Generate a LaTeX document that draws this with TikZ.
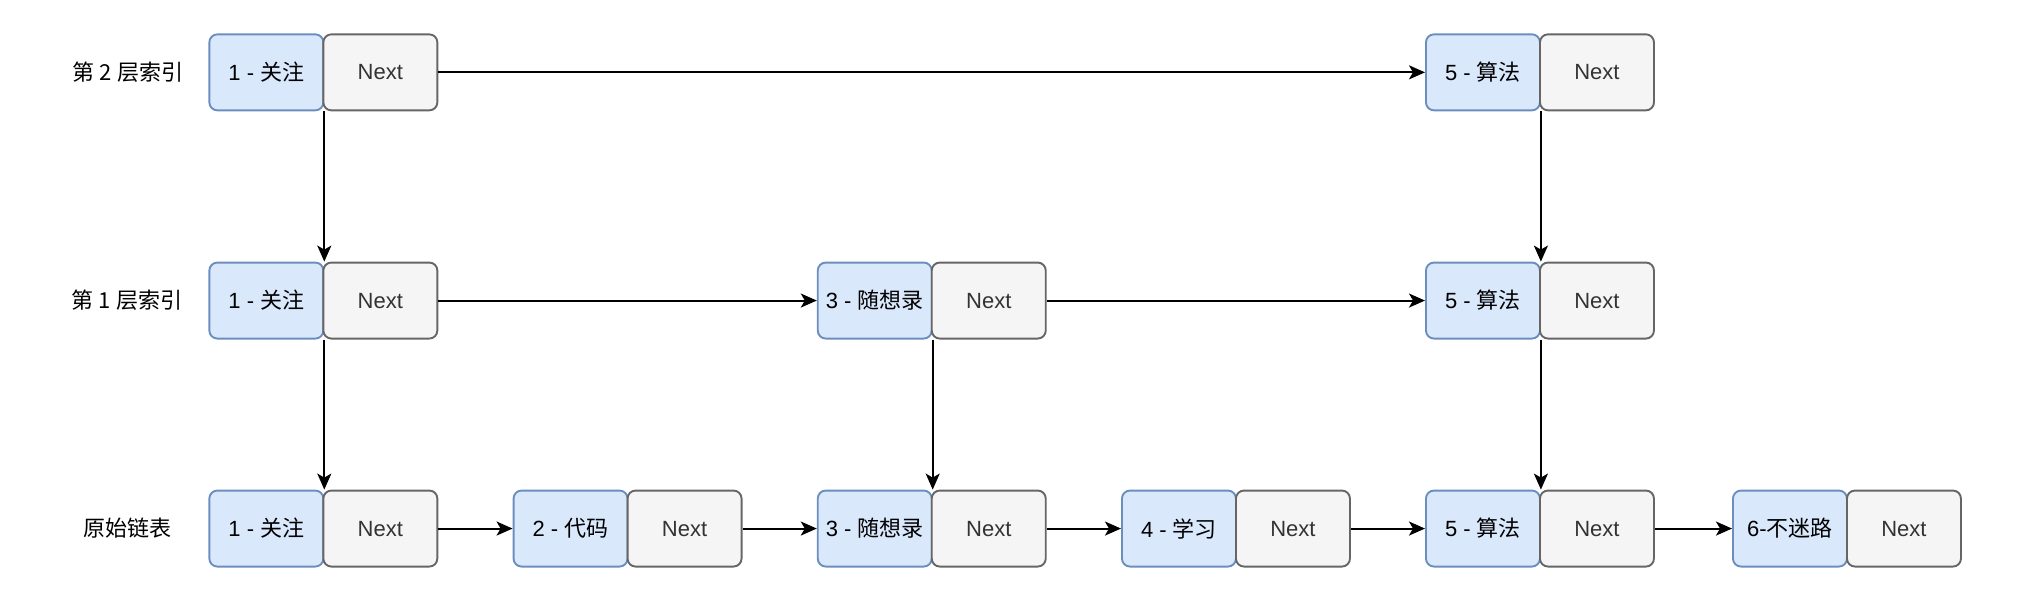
\documentclass[tikz,border=0pt]{standalone}
\usepackage{fontspec}
\setmainfont{Liberation Sans}
\newfontfamily\cjk{Noto Sans CJK SC}
\usetikzlibrary{arrows.meta}
\definecolor{valfill}{HTML}{DAE8FC}
\definecolor{valdraw}{HTML}{6C8EBF}
\definecolor{nxfill}{HTML}{F5F5F5}
\definecolor{nxdraw}{HTML}{666666}
\definecolor{nxtext}{HTML}{333333}
\tikzset{
  valbox/.style={draw=valdraw, fill=valfill, line width=1.9pt, rounded corners=8pt,
    minimum width=114pt, minimum height=76pt, inner sep=0pt, anchor=north west,
    font=\fontsize{22}{26}\selectfont, text=black},
  nxbox/.style={draw=nxdraw, fill=nxfill, line width=1.9pt, rounded corners=8pt,
    minimum width=114pt, minimum height=76pt, inner sep=0pt, anchor=north west,
    font=\fontsize{22}{26}\selectfont, text=nxtext},
  rowlabel/.style={font=\fontsize{22}{26}\selectfont\cjk, text=black, inner sep=0pt},
  link/.style={draw=black, line width=1.9pt, -{Stealth[length=16pt, width=14pt, inset=4pt]}},
}
\begin{document}
\begin{tikzpicture}[x=1pt, y=-1pt]
\useasboundingbox (0,0) rectangle (2030,600);
% row labels
\node[rowlabel] (l2) at (128,72) {第 2 层索引};
\node[rowlabel] (l1) at (127,300) {第 1 层索引};
\node[rowlabel] (l0) at (127,528) {原始链表};
% row 2
\node[valbox] (a1) at (208.4,33.4) {1 - {\cjk 关注}};
\node[nxbox]  (an1) at (322.4,33.4) {Next};
\node[valbox] (a5) at (1425,33.4) {5 - {\cjk 算法}};
\node[nxbox]  (an5) at (1539,33.4) {Next};
% row 1
\node[valbox] (b1) at (208.4,261.6) {1 - {\cjk 关注}};
\node[nxbox]  (bn1) at (322.4,261.6) {Next};
\node[valbox] (b3) at (816.8,261.6) {3 - {\cjk 随想录}};
\node[nxbox]  (bn3) at (930.8,261.6) {Next};
\node[valbox] (b5) at (1425,261.6) {5 - {\cjk 算法}};
\node[nxbox]  (bn5) at (1539,261.6) {Next};
% row 0
\node[valbox] (c1) at (208.4,489.6) {1 - {\cjk 关注}};
\node[nxbox]  (cn1) at (322.4,489.6) {Next};
\node[valbox] (c2) at (512.6,489.6) {2 - {\cjk 代码}};
\node[nxbox]  (cn2) at (626.6,489.6) {Next};
\node[valbox] (c3) at (816.8,489.6) {3 - {\cjk 随想录}};
\node[nxbox]  (cn3) at (930.8,489.6) {Next};
\node[valbox] (c4) at (1121,489.6) {4 - {\cjk 学习}};
\node[nxbox]  (cn4) at (1235,489.6) {Next};
\node[valbox] (c5) at (1425,489.6) {5 - {\cjk 算法}};
\node[nxbox]  (cn5) at (1539,489.6) {Next};
\node[valbox] (c6) at (1732,489.6) {6-{\cjk 不迷路}};
\node[nxbox]  (cn6) at (1846,489.6) {Next};
% horizontal links
\draw[link] (an1.east) -- (a5.west);
\draw[link] (bn1.east) -- (b3.west);
\draw[link] (bn3.east) -- (b5.west);
\draw[link] (cn1.east) -- (c2.west);
\draw[link] (cn2.east) -- (c3.west);
\draw[link] (cn3.east) -- (c4.west);
\draw[link] (cn4.east) -- (c5.west);
\draw[link] (cn5.east) -- (c6.west);
% vertical links
\draw[link] (a1.south east) -- (b1.north east);
\draw[link] (a5.south east) -- (b5.north east);
\draw[link] (b1.south east) -- (c1.north east);
\draw[link] (b3.south east) -- (c3.north east);
\draw[link] (b5.south east) -- (c5.north east);
\end{tikzpicture}
\end{document}
